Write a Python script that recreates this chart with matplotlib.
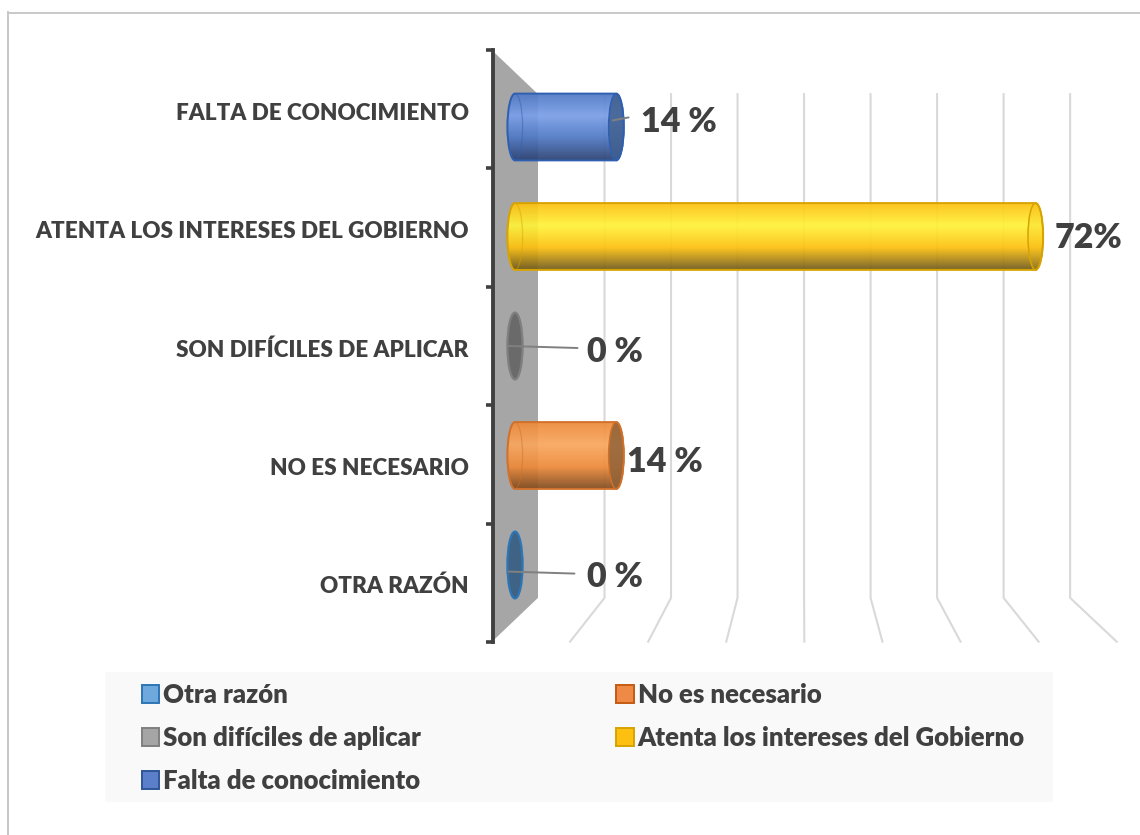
import matplotlib
matplotlib.use('Agg')
import numpy as np
import matplotlib.pyplot as plt
from matplotlib.colors import LinearSegmentedColormap
from matplotlib.patches import Ellipse, PathPatch, Polygon, Rectangle
from matplotlib.path import Path
from matplotlib.transforms import ScaledTranslation

plt.rcParams['font.family'] = ['Lato', 'DejaVu Sans']

# bottom to top, same order as the chart axis
categories = ['OTRA RAZÓN', 'NO ES NECESARIO', 'SON DIFÍCILES DE APLICAR',
              'ATENTA LOS INTERESES DEL GOBIERNO', 'FALTA DE CONOCIMIENTO']
values = [0, 14, 0, 72, 14]
value_labels = ['0 %', '14 %', '0 %', '72%', '14 %']
legend_names = ['Otra razón', 'Son difíciles de aplicar', 'Falta de conocimiento',
                'No es necesario', 'Atenta los intereses del Gobierno']
grid_values = [10, 20, 30, 40, 50, 60, 70, 80]

# light, mid, dark for the cylinder shading, then edge, cap
bar_colors = [
    ('#5b9bd5', '#5b9bd5', '#2e5f8a', '#2e75b6', '#3f6384'),
    ('#f9a75e', '#ed8a3a', '#7f4a1e', '#d0702a', '#8f6238d8'),
    ('#a5a5a5', '#a5a5a5', '#555555', '#7f7f7f', '#6a6a6a'),
    ('#fff33a', '#fdc010', '#6f5a1c', '#d6a300', '#f0bd1030'),
    ('#7a9fe8', '#4f78c4', '#2b4272', '#2f5fb0', '#41608fd8'),
]
legend_colors = ['#6fa8dc', '#a5a5a5', '#5b7fca', '#ee8a45', '#fdc010']
legend_edges = ['#2e75b6', '#7f7f7f', '#2f5597', '#c55a11', '#d6a300']

W, H = 1140, 835
fig = plt.figure(figsize=(W / 100, H / 100), dpi=100, facecolor='white')


def box(x0, y0, x1, y1):
    # pixel box (y down) to figure fractions
    return [x0 / W, 1 - y1 / H, (x1 - x0) / W, (y1 - y0) / H]


# picture frame
fig.add_artist(plt.Line2D([8 / W, 8 / W], [0, 1 - 12 / H], color='#c8c8c8', lw=1.4))
fig.add_artist(plt.Line2D([8 / W, 1], [1 - 12.5 / H, 1 - 12.5 / H], color='#c8c8c8', lw=1.4))

# middle of the 3D depth: bars live here
ax = fig.add_axes(box(515, 72.25, 515 + 7.23 * 80, 619.75))
ax.set_axis_off()


def plane(v, pos, d):
    # d = -1 back wall, 0 bar plane, 1 front edge
    k = 1 + 0.08 * d
    return k * v - 3.18 * d, 2 + (pos - 2) * k


wall = [plane(0, -0.5, 1), plane(0, 4.5, 1), plane(0, 4.5, -1), plane(0, -0.5, -1)]
ax.add_patch(Polygon(wall, closed=True, fc='#a6a6a6', ec='none', clip_on=False, zorder=1))

for g in grid_values:
    p0 = plane(g, 4.5, -1)
    p1 = plane(g, -0.5, -1)
    p2 = plane(g, -0.5, 1)
    ax.plot([p0[0], p1[0], p2[0]], [p0[1], p1[1], p2[1]], color='#d9d9d9', lw=1.5,
            clip_on=False, zorder=2)

half_h = 0.305
end_w = 1.05
kappa = 0.5523

for i, v in enumerate(values):
    light, mid, dark, edge, cap = bar_colors[i]
    if v > 0:
        top, bot = i + half_h, i - half_h
        kw, kh = end_w * kappa, half_h * kappa
        verts = [(0, bot), (-kw, bot), (-end_w, i - kh), (-end_w, i),
                 (-end_w, i + kh), (-kw, top), (0, top),
                 (v, top),
                 (v + kw, top), (v + end_w, i + kh), (v + end_w, i),
                 (v + end_w, i - kh), (v + kw, bot), (v, bot), (0, bot)]
        codes = [Path.MOVETO] + [Path.CURVE4] * 6 + [Path.LINETO] + [Path.CURVE4] * 6 + [Path.CLOSEPOLY]
        body = PathPatch(Path(verts, codes), fc='none', ec=edge, lw=1.4, clip_on=False, zorder=6)
        ax.add_patch(body)
        cmap = LinearSegmentedColormap.from_list('c', [dark, mid, light, mid])
        grad = np.linspace(0, 1, 128).reshape(-1, 1)
        im = ax.imshow(grad, extent=(-end_w, v + end_w, bot, top), origin='lower',
                       aspect='auto', cmap=cmap, alpha=0.93, zorder=4)
        im.set_clip_box(fig.bbox)
        im.set_clip_path(body)
        ax.add_patch(Ellipse((0, i), 2 * end_w, 2 * half_h, fc='none', ec=edge, lw=0.9,
                             alpha=0.45, clip_on=False, zorder=5))
        ax.add_patch(Ellipse((v, i), 2 * end_w, 2 * half_h, fc=cap, ec=edge, lw=1.1,
                             clip_on=False, zorder=5))
    else:
        ax.add_patch(Ellipse((0, i), 2 * end_w, 2 * half_h, fc=cap, ec=edge, lw=1.6,
                             clip_on=False, zorder=5))

# label offsets from the bar end, in pixels converted to points
label_dx = [100, 49, 100, 53, 63]
label_dy = [-12, -7, -6, -2, 5]
leader_start = {0: (-0.9, -0.06), 2: (-0.9, 0.0), 4: (-0.5, 0.06)}
leader_end = {0: (66, -2), 2: (69, -2), 4: (16, 3)}
for i, v in enumerate(values):
    ax.annotate(value_labels[i], (v, i), xytext=(label_dx[i] * 0.72, label_dy[i] * 0.72),
                textcoords='offset points', ha='center', va='center', fontsize=24.5,
                fontweight='heavy', color='#404040', annotation_clip=False, zorder=8)
    if i in leader_start:
        sx, sy = leader_start[i]
        ex, ey = leader_end[i]
        ax.annotate('', (v + sx, i + sy), xytext=(ex * 0.72, ey * 0.72), textcoords='offset points',
                    arrowprops=dict(arrowstyle='-', color='#808080', lw=1.4, shrinkA=0, shrinkB=0),
                    annotation_clip=False, zorder=7)
ax.set_xlim(0, 80)
ax.set_ylim(-0.5, 4.5)

# front edge axis with the category names
front = fig.add_axes(box(493, 50, 493 + 7.8 * 80, 642), facecolor='none')
front.set_xlim(0, 80)
front.set_ylim(-0.5, 4.5)
for s in ['top', 'right', 'bottom']:
    front.spines[s].set_visible(False)
front.spines['left'].set_linewidth(2.8)
front.spines['left'].set_color('#404040')
front.set_xticks([])
front.set_yticks(np.arange(-0.5, 5, 1))
front.set_yticklabels([])
front.set_yticks(np.arange(5), labels=categories, minor=True)
front.tick_params(axis='y', which='major', length=5, width=2.6, color='#404040')
front.tick_params(axis='y', which='minor', length=0, pad=17.5, labelsize=16.2,
                  labelcolor='#404040')
nudge = ScaledTranslation(0, -1.8 / 100, fig.dpi_scale_trans)
for lab in front.get_yticklabels(minor=True):
    lab.set_fontweight('heavy')
    lab.set_transform(lab.get_transform() + nudge)

# legend panel
leg_bg = fig.add_axes(box(105, 672, 1053, 802), facecolor='#f9f9f9')
leg_bg.set_xticks([])
leg_bg.set_yticks([])
for s in leg_bg.spines.values():
    s.set_visible(False)
handles = [Rectangle((0, 0), 1, 1, fc=c, ec=e, lw=1.4) for c, e in zip(legend_colors, legend_edges)]
leg_bg.legend(handles, legend_names, ncol=2, frameon=False, loc='upper left',
              bbox_to_anchor=(0.039, 0.917), prop={'size': 18.5, 'weight': 'heavy'},
              labelcolor='#404040', handlelength=0.68, handleheight=0.68, handletextpad=0.15,
              labelspacing=0.75, columnspacing=7.6, borderpad=0, borderaxespad=0)

fig.savefig('out.png', dpi=100)
